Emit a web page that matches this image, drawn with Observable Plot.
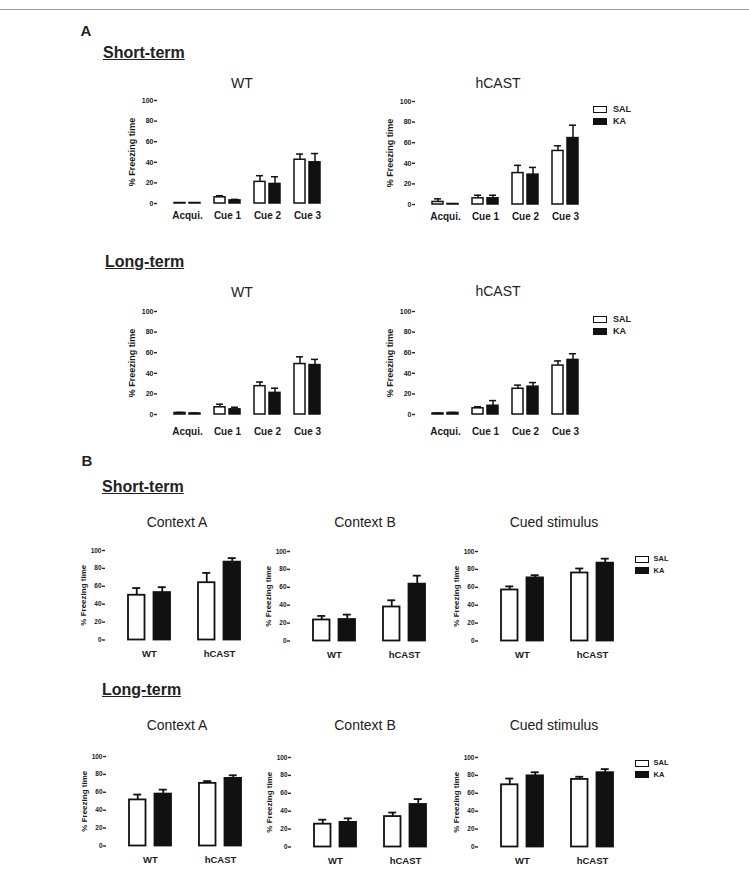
<!DOCTYPE html>
<html><head><meta charset="utf-8">
<script src="https://cdn.jsdelivr.net/npm/d3@7"></script>
<script src="https://cdn.jsdelivr.net/npm/@observablehq/plot@0.6"></script>
<style>
html,body{margin:0;padding:0;background:#fff;}
#fig{position:relative;width:749px;height:869px;overflow:hidden;font-family:"Liberation Sans",Arial,sans-serif;color:#222;}
#fig .abs{position:absolute;white-space:nowrap;line-height:1;}
.panel{font-weight:bold;font-size:15px;transform:translate(-50%,-50%);}
.head{font-weight:bold;font-size:16px;text-decoration:underline;transform:translateY(-50%);}
.title{font-size:14px;transform:translate(-50%,-50%);}
.chart{position:absolute;}
.chart svg{overflow:visible;}
.box{position:absolute;box-sizing:border-box;border:1.5px solid #111;}
.legtxt{font-weight:bold;transform:translateY(-50%);}
</style>
</head><body><div id="fig"></div>
<script>
// ---------- categories / labels ----------
const phases = ["Acqui.", "Cue 1", "Cue 2", "Cue 3"];
const genotypes = ["WT", "hCAST"];
const treatments = ["SAL", "KA"];
const contexts = ["Context A", "Context B", "Cued stimulus"];
const terms = ["Short-term", "Long-term"];
const panelLetters = ["A", "B"];
const yTicks = [0, 20, 40, 60, 80, 100];
const yLabel = "% Freezing time";

// ---------- Panel A (per phase) ----------
const aShortWT_SAL = [0.5, 6, 21, 42.5];
const aShortWT_SALerr = [0, 1.5, 6, 5.5];
const aShortWT_KA = [0.5, 3, 19, 40];
const aShortWT_KAerr = [0, 1, 7, 8.5];

const aShortHC_SAL = [2.5, 6, 30.5, 52];
const aShortHC_SALerr = [3, 3, 7.5, 5];
const aShortHC_KA = [0.5, 6, 29, 64.5];
const aShortHC_KAerr = [0, 3, 7, 12.5];

const aLongWT_SAL = [1.5, 7, 27.5, 49];
const aLongWT_SALerr = [0.5, 3, 4, 7];
const aLongWT_KA = [1, 5, 21, 48];
const aLongWT_KAerr = [0.5, 2, 4.5, 5.5];

const aLongHC_SAL = [1, 6, 25, 47.5];
const aLongHC_SALerr = [0.3, 1.5, 3.5, 4.5];
const aLongHC_KA = [1.5, 8.5, 27, 53];
const aLongHC_KAerr = [0.5, 5, 4, 6];

// ---------- Panel B (per genotype: WT, hCAST) ----------
const bShortCtxA_SAL = [50, 64];
const bShortCtxA_SALerr = [8, 11];
const bShortCtxA_KA = [53, 87];
const bShortCtxA_KAerr = [6, 4.5];

const bShortCtxB_SAL = [23.5, 38];
const bShortCtxB_SALerr = [4.5, 7.5];
const bShortCtxB_KA = [24, 63.5];
const bShortCtxB_KAerr = [5.5, 9.5];

const bShortCued_SAL = [57, 76];
const bShortCued_SALerr = [4, 5];
const bShortCued_KA = [70.5, 87];
const bShortCued_KAerr = [3, 5];

const bLongCtxA_SAL = [51.5, 70];
const bLongCtxA_SALerr = [6, 2.5];
const bLongCtxA_KA = [58, 75.5];
const bLongCtxA_KAerr = [5, 3.5];

const bLongCtxB_SAL = [25.5, 34];
const bLongCtxB_SALerr = [5, 4.5];
const bLongCtxB_KA = [27.5, 47.5];
const bLongCtxB_KAerr = [4.5, 6];

const bLongCued_SAL = [69.5, 75.5];
const bLongCued_SALerr = [7, 3];
const bLongCued_KA = [79.5, 83];
const bLongCued_KAerr = [4, 4];

// ---------- drawing ----------
const fig = document.getElementById("fig");
const FONT = '"Liberation Sans", Arial, sans-serif';
const INK = "#111";

function addText(cls, txt, x, y, extra) {
  const d = document.createElement("div");
  d.className = "abs " + cls;
  d.textContent = txt;
  d.style.left = x + "px";
  d.style.top = y + "px";
  if (extra) Object.assign(d.style, extra);
  fig.appendChild(d);
}

const geomA = {ml: 47, mt: 8, ph: 103, mb: 30, xStart: 17, xEnd: 163, pi: 0.35,
  barW: 11, gap: 4, cap: 7, sw: 1.5, tickFont: 7, xFont: 10, labFont: 9, labOff: 25};
const geomB = {ml: 40, mt: 8, ph: 89.5, mb: 26, xStart: 22.5, xEnd: 134.5, pi: 0.4,
  barW: 16.5, gap: 9, cap: 8, sw: 1.8, tickFont: 6.5, xFont: 9.5, labFont: 8, labOff: 22};

function chart(cats, sal, salErr, ka, kaErr, g, axisX, yTop, xPad) {
  const salRows = cats.map((c, i) => ({cat: c, v: sal[i], e: salErr[i]}));
  const kaRows = cats.map((c, i) => ({cat: c, v: ka[i], e: kaErr[i]}));
  const B = g.barW * 2 + g.gap;
  const off = (g.barW + g.gap) / 2;
  const width = g.ml + g.xEnd + 10;
  const height = g.mt + g.ph + g.mb;
  const capIn = g.barW / 2 - g.cap / 2;
  const capOut = B - g.barW / 2 - g.cap / 2;
  const svg = Plot.plot({
    width, height,
    marginLeft: g.ml, marginTop: g.mt, marginBottom: g.mb, marginRight: 0,
    style: {background: "transparent", fontFamily: FONT, color: "#1a1a1a", overflow: "visible"},
    x: {type: "band", domain: cats, range: [g.ml + g.xStart, g.ml + g.xEnd], paddingInner: g.pi, paddingOuter: 0},
    y: {domain: [0, 100]},
    marks: [
      Plot.barY(salRows, {x: "cat", y: "v", fill: "white", stroke: INK, strokeWidth: g.sw, insetRight: g.barW + g.gap}),
      Plot.barY(kaRows, {x: "cat", y: "v", fill: INK, stroke: INK, strokeWidth: g.sw, insetLeft: g.barW + g.gap}),
      Plot.ruleX(salRows.filter(d => d.e > 0), {x: "cat", y1: "v", y2: d => d.v + d.e, dx: -off, stroke: INK, strokeWidth: g.sw}),
      Plot.ruleX(kaRows.filter(d => d.e > 0), {x: "cat", y1: "v", y2: d => d.v + d.e, dx: off, stroke: INK, strokeWidth: g.sw}),
      Plot.tickY(salRows.filter(d => d.e > 0), {x: "cat", y: d => d.v + d.e, insetLeft: capIn, insetRight: capOut, stroke: INK, strokeWidth: g.sw}),
      Plot.tickY(kaRows.filter(d => d.e > 0), {x: "cat", y: d => d.v + d.e, insetLeft: capOut, insetRight: capIn, stroke: INK, strokeWidth: g.sw}),
      Plot.axisY({ticks: yTicks, tickSize: 3, tickPadding: 1, fontSize: g.tickFont, fontWeight: "bold", label: null, line: true, strokeWidth: 1.4, stroke: "#2a2a2a", fill: "#1a1a1a"}),
      Plot.axisX({tickSize: 0, tickPadding: xPad, fontSize: g.xFont, fontWeight: "bold", label: null, fill: "#1a1a1a"}),
      Plot.text([yLabel], {frameAnchor: "left", textAnchor: "middle", rotate: -90, dx: -g.labOff, fontSize: g.labFont, fontWeight: "bold", fill: "#1a1a1a"})
    ]
  });
  const div = document.createElement("div");
  div.className = "chart";
  div.style.left = (axisX - g.ml) + "px";
  div.style.top = (yTop - g.mt) + "px";
  div.style.width = width + "px";
  div.appendChild(svg);
  fig.appendChild(div);
}

function legend(x, y, bw, bh, rowGap, fs, textDx) {
  treatments.forEach((t, i) => {
    const b = document.createElement("div");
    b.className = "box";
    Object.assign(b.style, {left: x + "px", top: (y + i * rowGap) + "px", width: bw + "px", height: bh + "px",
      background: t === "SAL" ? "#fff" : INK});
    fig.appendChild(b);
    addText("legtxt", t, x + bw + textDx, y + i * rowGap + bh / 2, {fontSize: fs + "px"});
  });
}

// top rule
const rule = document.createElement("div");
Object.assign(rule.style, {position: "absolute", left: "0px", top: "8.5px", width: "749px", height: "1.5px", background: "#9a9a9a"});
fig.appendChild(rule);

// ----- Panel A -----
addText("panel", panelLetters[0], 86, 30);
addText("head", terms[0], 103, 53);
addText("title", genotypes[0], 242, 83);
addText("title", genotypes[1], 498, 83);
chart(phases, aShortWT_SAL, aShortWT_SALerr, aShortWT_KA, aShortWT_KAerr, geomA, 157, 100, 8.5);
chart(phases, aShortHC_SAL, aShortHC_SALerr, aShortHC_KA, aShortHC_KAerr, geomA, 415, 100.5, 8.5);
legend(593, 105.5, 14, 7.5, 12, 9, 6);

addText("head", terms[1], 105, 262);
addText("title", genotypes[0], 242, 292);
addText("title", genotypes[1], 498, 291);
chart(phases, aLongWT_SAL, aLongWT_SALerr, aLongWT_KA, aLongWT_KAerr, geomA, 157, 311, 13);
chart(phases, aLongHC_SAL, aLongHC_SALerr, aLongHC_KA, aLongHC_KAerr, geomA, 415, 310.7, 13);
legend(593, 315.5, 14, 7.5, 12, 9, 6);

// ----- Panel B -----
addText("panel", panelLetters[1], 87, 460);
addText("head", terms[0], 102, 487);
addText("title", contexts[0], 177, 522);
addText("title", contexts[1], 365, 522);
addText("title", contexts[2], 554, 522);
chart(genotypes, bShortCtxA_SAL, bShortCtxA_SALerr, bShortCtxA_KA, bShortCtxA_KAerr, geomB, 105, 550, 10);
chart(genotypes, bShortCtxB_SAL, bShortCtxB_SALerr, bShortCtxB_KA, bShortCtxB_KAerr, geomB, 289.5, 550.8, 10);
chart(genotypes, bShortCued_SAL, bShortCued_SALerr, bShortCued_KA, bShortCued_KAerr, geomB, 478, 551.2, 10);
legend(635, 555.5, 13.5, 7, 11.5, 7.5, 5);

addText("head", terms[1], 102, 690);
addText("title", contexts[0], 177, 725);
addText("title", contexts[1], 365, 725);
addText("title", contexts[2], 554, 725);
chart(genotypes, bLongCtxA_SAL, bLongCtxA_SALerr, bLongCtxA_KA, bLongCtxA_KAerr, geomB, 106, 756.2, 10);
chart(genotypes, bLongCtxB_SAL, bLongCtxB_SALerr, bLongCtxB_KA, bLongCtxB_KAerr, geomB, 290.5, 756.7, 10);
chart(genotypes, bLongCued_SAL, bLongCued_SALerr, bLongCued_KA, bLongCued_KAerr, geomB, 478, 756.7, 10);
legend(635, 759.5, 13.5, 7, 11.5, 7.5, 5);
</script>
</body></html>
